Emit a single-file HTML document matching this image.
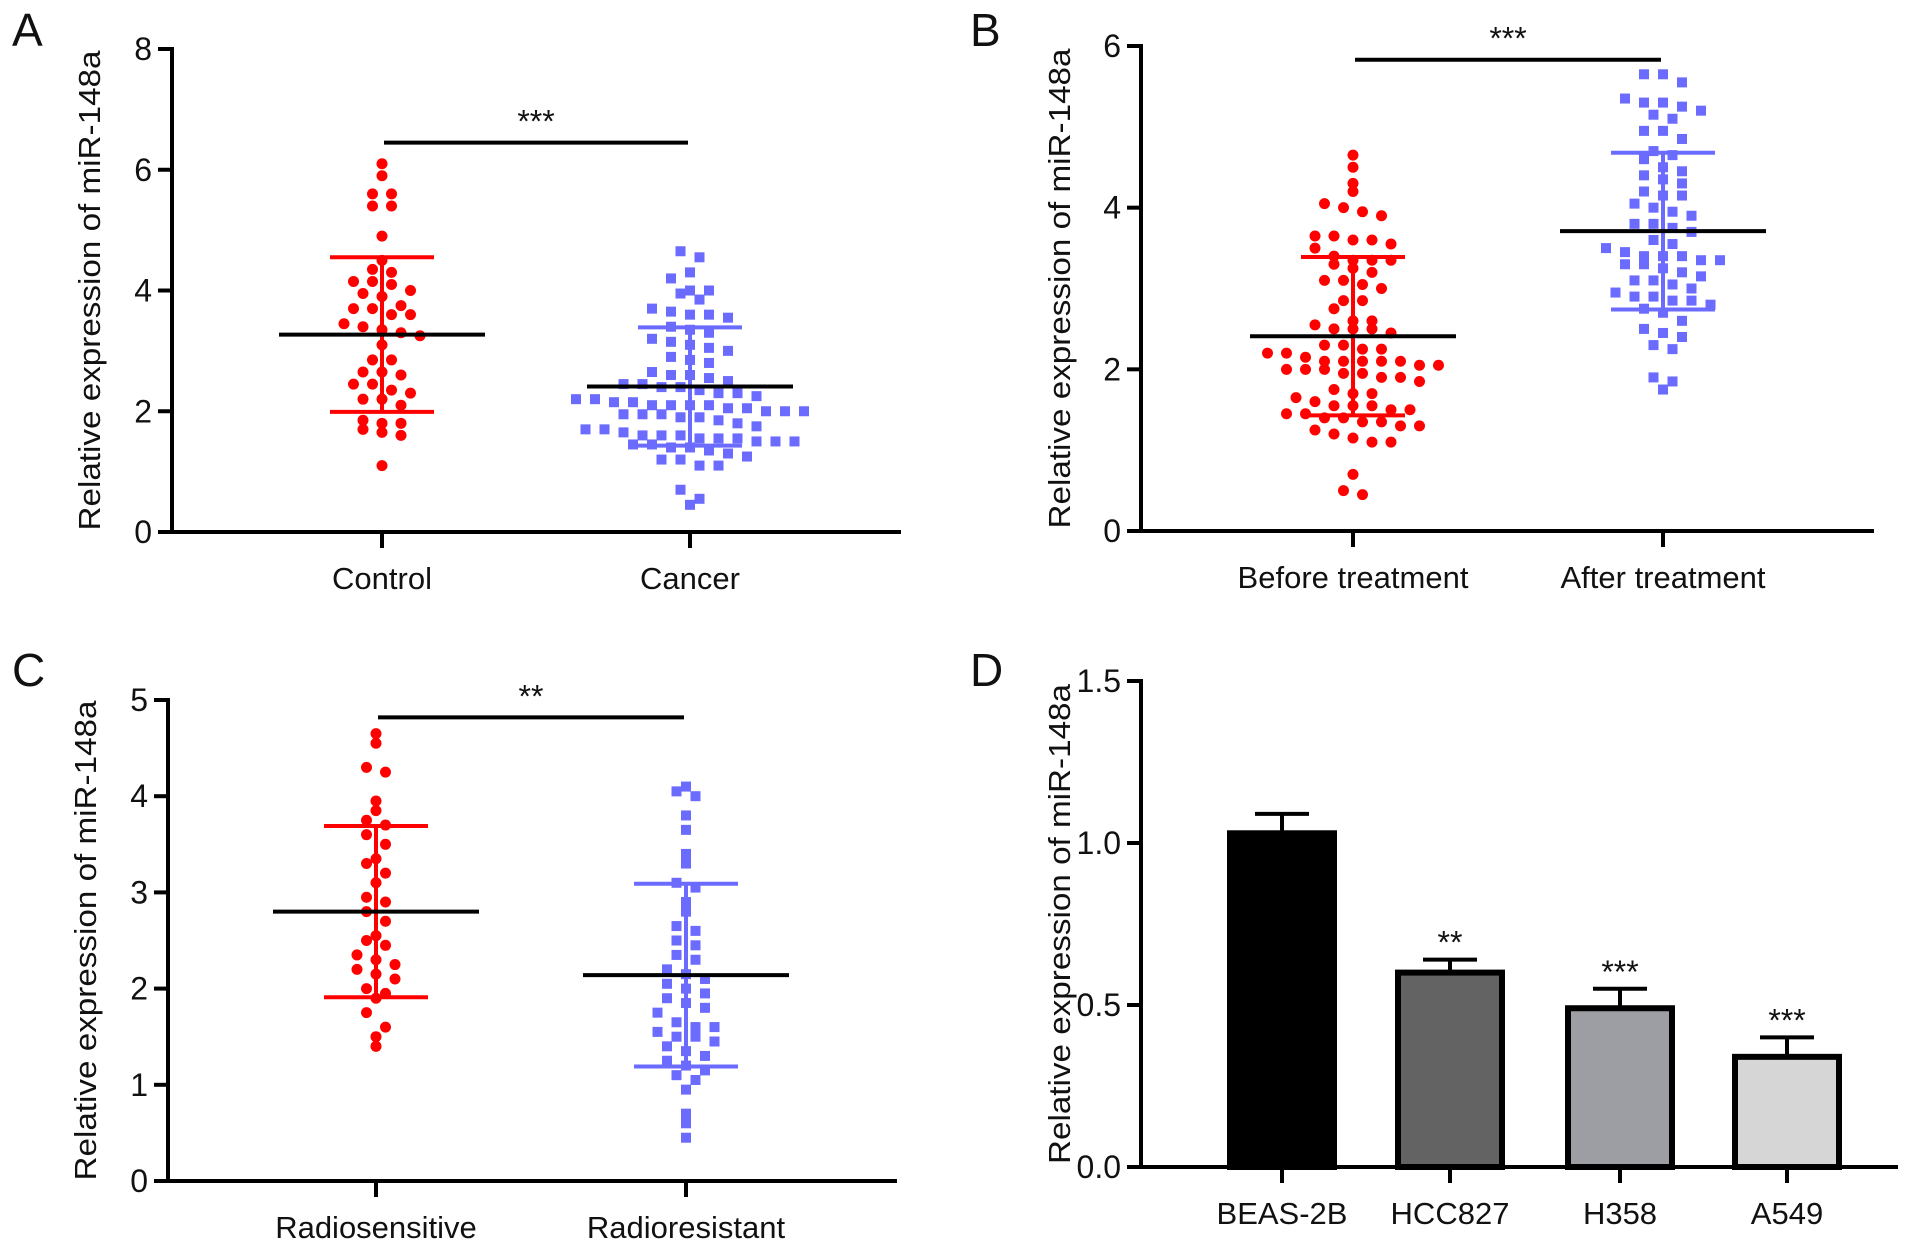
<!DOCTYPE html>
<html><head><meta charset="utf-8"><style>
html,body{margin:0;padding:0;background:#fff;}
svg{display:block;font-family:"Liberation Sans",Arial,sans-serif;}
</style></head><body>
<svg id="fig" width="1913" height="1250" viewBox="0 0 1913 1250">
<g id="pA"></g>
<g id="pB"></g>
<g id="pC"></g>
<g id="pD"></g>
</svg>
<script>
// ---- Panel A data ----
const aCategories = ["Control", "Cancer"];
const aControl = [6.1,5.9,5.6,5.6,5.4,5.4,4.9,4.5,4.35,4.3,4.15,4.15,4.1,4.0,3.95,3.9,3.75,3.7,3.7,3.6,3.6,3.45,3.4,3.35,3.3,3.25,3.1,2.85,2.85,2.65,2.65,2.6,2.45,2.45,2.35,2.3,2.2,2.2,2.1,1.85,1.8,1.8,1.7,1.65,1.6,1.1];
const aCancer = [4.65,4.55,4.3,4.2,4.0,4.0,3.95,3.85,3.7,3.65,3.6,3.6,3.55,3.4,3.35,3.3,3.2,3.15,3.1,3.05,3.0,2.9,2.85,2.8,2.65,2.6,2.6,2.55,2.5,2.45,2.45,2.4,2.4,2.35,2.3,2.3,2.25,2.2,2.2,2.15,2.15,2.1,2.1,2.1,2.1,2.05,2.05,2.0,2.0,2.0,1.95,1.95,1.95,1.9,1.9,1.85,1.8,1.75,1.7,1.7,1.65,1.6,1.6,1.6,1.55,1.55,1.55,1.5,1.5,1.5,1.45,1.45,1.4,1.4,1.35,1.3,1.25,1.2,1.2,1.1,1.1,0.7,0.55,0.45];
const aMeans = [3.27, 2.41];
const aSDs = [1.28, 0.98];
const aYTicks = [0,2,4,6,8];
const aSig = "***";
// ---- Panel B data ----
const bCategories = ["Before treatment", "After treatment"];
const bBefore = [4.65,4.5,4.3,4.2,4.05,3.95,4.0,3.9,3.65,3.6,3.6,3.65,3.55,3.5,3.4,3.35,3.35,3.35,3.3,3.25,3.2,3.1,3.1,3.05,3.0,2.85,2.85,2.75,2.6,2.6,2.55,2.5,2.5,2.5,2.45,2.3,2.3,2.25,2.25,2.2,2.2,2.15,2.1,2.1,2.1,2.1,2.1,2.05,2.05,2.0,2.0,2.0,1.95,1.95,1.9,1.9,1.85,1.75,1.7,1.7,1.65,1.6,1.55,1.55,1.55,1.5,1.5,1.45,1.45,1.4,1.4,1.35,1.35,1.3,1.3,1.25,1.2,1.15,1.1,1.1,0.7,0.5,0.45];
const bAfter = [5.65,5.65,5.55,5.35,5.3,5.3,5.25,5.2,5.15,5.1,4.95,4.95,4.85,4.7,4.65,4.6,4.5,4.45,4.4,4.35,4.3,4.2,4.15,4.15,4.05,4.0,3.95,3.9,3.8,3.8,3.75,3.7,3.6,3.55,3.5,3.45,3.4,3.4,3.4,3.35,3.35,3.3,3.3,3.25,3.2,3.15,3.1,3.1,3.05,3.0,2.95,2.9,2.9,2.85,2.85,2.8,2.75,2.7,2.6,2.5,2.45,2.4,2.3,2.25,1.9,1.85,1.75];
const bMeans = [2.41, 3.71];
const bSDs = [0.98, 0.97];
const bYTicks = [0,2,4,6];
const bSig = "***";
// ---- Panel C data ----
const cCategories = ["Radiosensitive", "Radioresistant"];
const cSens = [4.65,4.55,4.3,4.25,3.95,3.85,3.75,3.7,3.6,3.5,3.35,3.3,3.2,3.1,2.95,2.9,2.8,2.7,2.55,2.5,2.45,2.35,2.3,2.25,2.2,2.15,2.1,2.0,1.95,1.9,1.75,1.6,1.5,1.4];
const cRes = [4.1,4.05,4.0,3.8,3.65,3.4,3.3,3.1,3.05,2.9,2.8,2.65,2.6,2.5,2.45,2.35,2.3,2.2,2.15,2.1,2.05,2.0,1.95,1.9,1.85,1.8,1.75,1.65,1.6,1.6,1.55,1.5,1.5,1.45,1.4,1.35,1.3,1.25,1.2,1.15,1.1,1.05,0.95,0.7,0.6,0.45];
const cMeans = [2.8, 2.14];
const cSDs = [0.89, 0.95];
const cYTicks = [0,1,2,3,4,5];
const cSig = "**";
// ---- Panel D data ----
const dCategories = ["BEAS-2B","HCC827","H358","A549"];
const dValues = [1.03, 0.60, 0.49, 0.34];
const dErrors = [0.06, 0.04, 0.06, 0.06];
const dSigs = ["", "**", "***", "***"];
const dColors = ["#000000","#636363","#9d9da4","#d6d6d6"];
const dYTicks = [0.0,0.5,1.0,1.5];

const NS="http://www.w3.org/2000/svg";
function mk(parent, tag, attrs, text){
  const e=document.createElementNS(NS,tag);
  for(const k in attrs) e.setAttribute(k,attrs[k]);
  if(text!==undefined) e.textContent=text;
  parent.appendChild(e); return e;
}
function axes(g, cfg){
  const y = v => cfg.y0 - (v - cfg.min)/(cfg.max-cfg.min)*(cfg.y0-cfg.y1);
  let l=mk(g,'line',{x1:cfg.ax,y1:cfg.y1-2,x2:cfg.ax,y2:cfg.y0+2,stroke:'#000','stroke-width':4});
   
  l=mk(g,'line',{x1:cfg.ax-14,y1:cfg.y0,x2:cfg.xr,y2:cfg.y0,stroke:'#000','stroke-width':4});
   
  cfg.ticks.forEach(t=>{
    const tk=mk(g,'line',{x1:cfg.ax-14,y1:y(t),x2:cfg.ax,y2:y(t),stroke:'#000','stroke-width':4});
     
    const tx=mk(g,'text',{x:cfg.ax-20,y:y(t)+11,'font-size':32,'text-anchor':'end',fill:'#111'},cfg.fmt?cfg.fmt(t):String(t));
     
  });
  const cy=(cfg.y0+cfg.y1)/2;
  const tt=mk(g,'text',{x:cfg.tx,y:cy,'font-size':31,'text-anchor':'middle',fill:'#111',textLength:480,lengthAdjust:'spacingAndGlyphs',transform:`rotate(-90 ${cfg.tx} ${cy})`},'Relative expression of miR-148a');
   
  const pl=mk(g,'text',{x:cfg.lx,y:cfg.ly,'font-size':46,fill:'#111'},cfg.letter);
   
  cfg.cx.forEach((x,i)=>{
    const tk=mk(g,'line',{x1:x,y1:cfg.y0,x2:x,y2:cfg.y0+16,stroke:'#000','stroke-width':4});
     
    const tx=mk(g,'text',{x:x,y:cfg.y0+57,'font-size':31,'text-anchor':'middle',fill:'#111'},cfg.cats[i]);
     
  });
  return y;
}
function swarm(g, vals, cx, y, color, shape, step){
  const sorted=[...vals].sort((a,b)=>b-a);
  const bins={};
  sorted.forEach(v=>{
    const py=y(v); const b=Math.round(py/15);
    bins[b]=bins[b]||[]; bins[b].push(py);
  });
  Object.values(bins).forEach(arr=>{
    const n=arr.length;
    arr.forEach((py,i)=>{
      const off=(i-(n-1)/2)*step;
      let m;
      if(shape==='circle') m=mk(g,'circle',{cx:cx+off,cy:py,r:5.5,fill:color});
      else m=mk(g,'rect',{x:cx+off-5,y:py-5,width:10,height:10,fill:color});
       
    });
  });
}
function meanSD(g,cx,y,mean,sd,color,half,cap){
  let l=mk(g,'line',{x1:cx,y1:y(mean+sd),x2:cx,y2:y(mean-sd),stroke:color,'stroke-width':4});
   
  [mean+sd,mean-sd].forEach(v=>{
    const c=mk(g,'line',{x1:cx-cap,y1:y(v),x2:cx+cap,y2:y(v),stroke:color,'stroke-width':4});
     
  });
  l=mk(g,'line',{x1:cx-half,y1:y(mean),x2:cx+half,y2:y(mean),stroke:'#000','stroke-width':4});
   
}
function sig(g,x1,x2,yy,txt){
  const l=mk(g,'line',{x1:x1,y1:yy,x2:x2,y2:yy,stroke:'#000','stroke-width':4});
   
  const t=mk(g,'text',{x:(x1+x2)/2,y:yy-10,'font-size':32,'text-anchor':'middle',fill:'#111'},txt);
   
}
function scatterPanel(id,cfg,g1,g2,means,sds,sigTxt,sigY){
  const g=document.getElementById(id);
  const y=axes(g,cfg);
  swarm(g,g1,cfg.cx[0],y,'#ff0000','circle',19);
  swarm(g,g2,cfg.cx[1],y,'#6b6bff','rect',19);
  meanSD(g,cfg.cx[0],y,means[0],sds[0],'#ff0000',cfg.half,cfg.cap);
  meanSD(g,cfg.cx[1],y,means[1],sds[1],'#6b6bff',cfg.half,cfg.cap);
  sig(g,cfg.cx[0]+2,cfg.cx[1]-2,y(sigY),sigTxt);
}
scatterPanel('pA',{ax:172,y0:532,y1:49,min:0,max:8,xr:901,ticks:aYTicks,tx:100,lx:12,ly:46,letter:'A',cx:[382,690],cats:aCategories,half:103,cap:52},aControl,aCancer,aMeans,aSDs,aSig,6.45);
scatterPanel('pB',{ax:1141,y0:531,y1:46,min:0,max:6,xr:1874,ticks:bYTicks,tx:1070,lx:970,ly:46,letter:'B',cx:[1353,1663],cats:bCategories,half:103,cap:52},bBefore,bAfter,bMeans,bSDs,bSig,5.83);
scatterPanel('pC',{ax:168,y0:1181,y1:700,min:0,max:5,xr:897,ticks:cYTicks,tx:96,lx:12,ly:686,letter:'C',cx:[376,686],cats:cCategories,half:103,cap:52},cSens,cRes,cMeans,cSDs,cSig,4.82);

// Panel D
(function(){
  const g=document.getElementById('pD');
  const cx=[1282,1450,1620,1787];
  const cfg={ax:1141,y0:1167,y1:681,min:0,max:1.5,xr:1898,ticks:dYTicks,tx:1070,lx:970,ly:686,letter:'D',cx:cx,cats:dCategories,fmt:t=>t.toFixed(1)};
  const y=axes(g,cfg);
  const bw=104;
  dValues.forEach((v,i)=>{
    const top=y(v+dErrors[i]);
    const e=mk(g,'line',{x1:cx[i],y1:top,x2:cx[i],y2:y(v),stroke:'#000','stroke-width':4});
     
    const c=mk(g,'line',{x1:cx[i]-27,y1:top,x2:cx[i]+27,y2:top,stroke:'#000','stroke-width':4});
     
    const b=mk(g,'rect',{x:cx[i]-bw/2,y:y(v),width:bw,height:y(0)-y(v),fill:dColors[i],stroke:'#000','stroke-width':6});
     
    if(dSigs[i]){
      const t=mk(g,'text',{x:cx[i],y:top-6,'font-size':32,'text-anchor':'middle',fill:'#111'},dSigs[i]);
       
    }
  });
})();
</script>
</body></html>
